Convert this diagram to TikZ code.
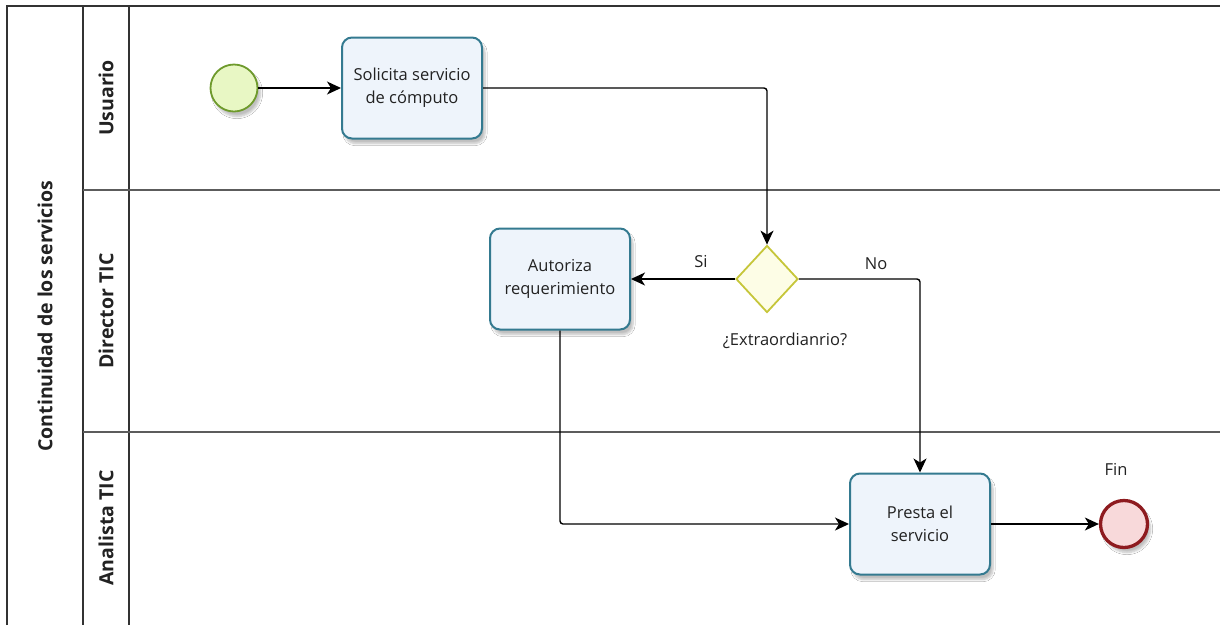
\documentclass[tikz,border=0pt]{standalone}
\usepackage{fontspec}
\setmainfont{Open Sans}
\usetikzlibrary{arrows.meta,shapes.geometric,shadows.blur}
\definecolor{taskborder}{HTML}{347A90}
\definecolor{taskfill}{HTML}{EEF4FB}
\definecolor{startborder}{HTML}{6E9A2C}
\definecolor{startfill}{HTML}{E8F7C4}
\definecolor{endborder}{HTML}{8E1B1F}
\definecolor{endfill}{HTML}{F8D9DA}
\definecolor{gateborder}{HTML}{C6C63A}
\definecolor{gatefill}{HTML}{FDFDE6}
\definecolor{frame}{HTML}{333333}
\definecolor{ink}{HTML}{222222}
\tikzset{
  evshadow/.style={blur shadow={shadow xshift=3pt, shadow yshift=-5pt, shadow blur steps=6, shadow opacity=25}},
  task/.style={draw=taskborder, line width=2pt, fill=taskfill, rounded corners=10pt,
    minimum width=140pt, minimum height=101pt, align=center, text=ink,
    font=\fontsize{16.5}{23}\selectfont, evshadow},
  startev/.style={circle, draw=startborder, line width=1.8pt, fill=startfill, minimum size=47pt, inner sep=0pt, evshadow},
  endev/.style={circle, draw=endborder, line width=3.3pt, fill=endfill, minimum size=47pt, inner sep=0pt, evshadow},
  gateway/.style={diamond, draw=gateborder, line width=1.8pt, fill=gatefill, minimum width=62pt, minimum height=67pt, inner sep=0pt},
  flow/.style={draw=black, line width=1.4pt, rounded corners=3pt, -{Stealth[length=14pt,width=13pt,inset=4pt]}},
  lbl/.style={font=\fontsize{16.5}{20}\selectfont, inner sep=0pt, text=ink},
  lanetitle/.style={font=\bfseries\fontsize{19.5}{22}\selectfont, rotate=90, inner sep=0pt, text=ink},
  boundary/.style={draw=frame, line width=1.4pt},
  lanesep/.style={draw=frame!80, line width=1.1pt}
}
\begin{document}
\begin{tikzpicture}[x=1pt,y=-1pt]
\useasboundingbox (0,0) rectangle (1220,625);
\fill[white] (0,0) rectangle (1220,625);
% pool and lanes
\draw[boundary] (7,625) -- (7,6) -- (1220,6);
\draw[boundary] (83,6) -- (83,625);
\draw[boundary] (129,6) -- (129,625);
\draw[lanesep] (83,190) -- (1220,190);
\draw[lanesep] (83,432) -- (1220,432);
\node[lanetitle] (pool) at (45,316) {Continuidad de los servicios};
\node[lanetitle] (l1) at (106,98) {Usuario};
\node[lanetitle] (l2) at (106,311) {Director TIC};
\node[lanetitle] (l3) at (106,528) {Analista TIC};
% flow elements
\node[startev] (start) at (234,88) {};
\node[task] (sol) at (412,88) {Solicita servicio\\de cómputo};
\node[gateway] (gw) at (767,279) {};
\node[task] (aut) at (560,279) {Autoriza\\requerimiento};
\node[task] (pre) at (920,524) {Presta el\\servicio};
\node[endev] (fin) at (1124,524) {};
% labels
\node[lbl] (ext) at (785,341) {¿Extraordianrio?};
\node[lbl] (si) at (701,262) {Si};
\node[lbl] (no) at (876,264) {No};
\node[lbl] (finl) at (1116,469) {Fin};
% sequence flows
\draw[flow] (start) -- (sol);
\draw[flow] (sol.east) -| (gw.north);
\draw[flow] (gw.west) -- (aut.east);
\draw[flow] (gw.east) -| (pre.north);
\draw[flow] (aut.south) |- (pre.west);
\draw[flow] (pre) -- (fin);
\end{tikzpicture}
\end{document}
